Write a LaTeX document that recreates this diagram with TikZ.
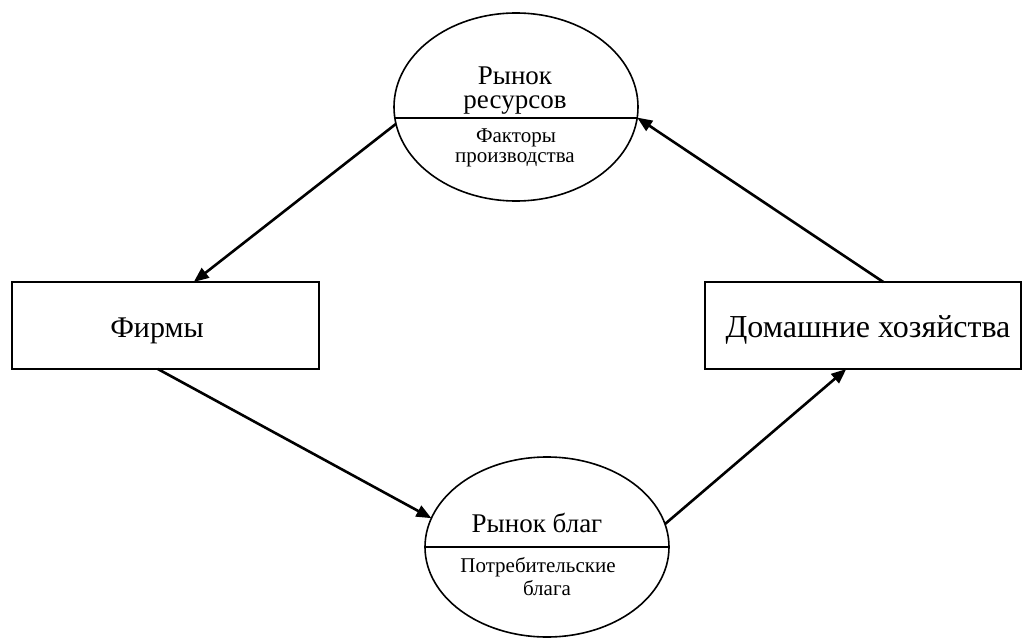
\documentclass[tikz,border=0pt]{standalone}
\usepackage{fontspec}
\setmainfont{Liberation Serif}
\usetikzlibrary{shapes.geometric,arrows.meta,calc}
\begin{document}
\begin{tikzpicture}[x=1pt,y=-1pt,
  market/.style={draw,line width=1.6pt,ellipse,inner sep=0pt,outer sep=0pt,minimum width=244pt,minimum height=#1},
  agent/.style={draw,line width=2pt,rectangle,inner sep=0pt,outer sep=0pt,minimum height=87pt},
  flow/.style={line width=2.6pt,-{Triangle[length=15pt,width=12pt]}},
  bigtxt/.style={anchor=base,inner sep=0pt,font=\fontsize{#1}{32}\selectfont},
  headtxt/.style={anchor=base,inner sep=0pt,font=\fontsize{27}{24}\selectfont},
  smalltxt/.style={anchor=base,inner sep=0pt,font=\fontsize{21}{22}\selectfont}]
\useasboundingbox (0,0) rectangle (1023,639);
% shapes
\node[market=188pt] (res) at (516,107) {};
\node[market=180pt] (gds) at (547,547) {};
\node[agent,minimum width=307pt] (firms) at (165.5,325.5) {};
\node[agent,minimum width=316pt] (hh) at (863,325.5) {};
% dividers
\draw[line width=1.6pt] ($(res.center)+(-121,11)$) coordinate (resL) -- ($(res.center)+(121,11)$) coordinate (resR);
\draw[line width=1.6pt] (gds.west) -- (gds.east);
% texts
\node[headtxt,anchor=center,align=center] (t1) at (515,90.5) {Рынок\\ресурсов};
\node[smalltxt] (t3) at (516,143) {Факторы};
\node[smalltxt] (t4) at (515,163) {производства};
\node[headtxt] (t5) at (537,532) {Рынок благ};
\node[smalltxt] (t6) at (538,572) {Потребительские};
\node[smalltxt] (t7) at (547,595) {блага};
\node[bigtxt=30] (t8) at (157,337) {Фирмы};
\node[bigtxt=32] (t9) at (868,337) {Домашние хозяйства};
% flows
\draw[flow] (res.188) -- (firms.57.7);
\draw[flow] (firms.260.4) -- (gds.166.4);
\draw[flow] (gds.11.5) -- (hh.249.8);
\draw[flow] (hh.65.3) -- (res.355.8);
\end{tikzpicture}
\end{document}
